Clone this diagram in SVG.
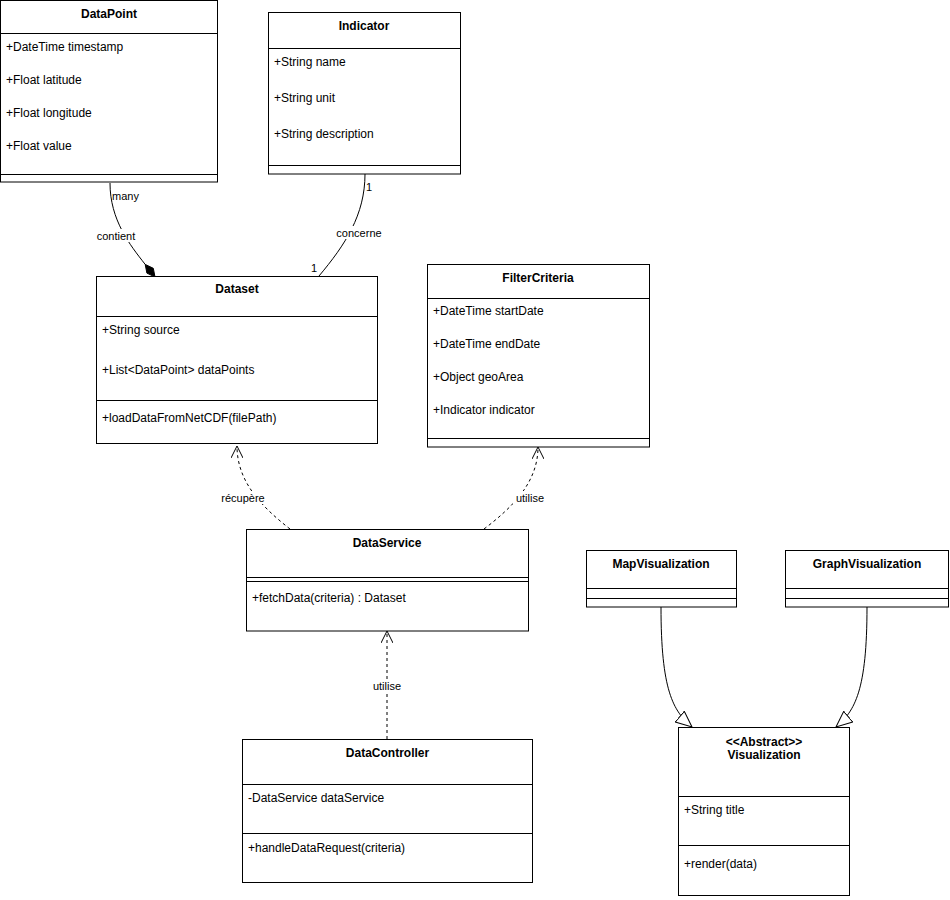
<svg xmlns="http://www.w3.org/2000/svg" width="950" height="900" viewBox="0 0 950 900">
<style>
.box{fill:#fff;stroke:#000;stroke-width:1}
.sep{stroke:#000;stroke-width:1;fill:none}
.title{font-family:"Liberation Sans",Arial,sans-serif;font-size:12px;font-weight:bold;text-anchor:middle;fill:#000}
.attr{font-family:"Liberation Sans",Arial,sans-serif;font-size:12px;fill:#000}
.lbl{font-family:"Liberation Sans",Arial,sans-serif;font-size:11px;fill:#000}
.mid{text-anchor:middle}
.edge{fill:none;stroke:#000;stroke-width:1}
.dash{stroke-dasharray:3 3}
</style>
<defs>
<marker id="open" viewBox="0 0 12 12" refX="12" refY="6" markerWidth="12" markerHeight="12" orient="auto" markerUnits="userSpaceOnUse">
<path d="M0,0 L12,6 L0,12" fill="none" stroke="#000" stroke-width="1"/>
</marker>
<marker id="tri" viewBox="0 0 17 15" refX="16.5" refY="7.5" markerWidth="17" markerHeight="15" orient="auto" markerUnits="userSpaceOnUse">
<path d="M0.5,0.5 L16.5,7.5 L0.5,14.5 Z" fill="#fff" stroke="#000" stroke-width="1"/>
</marker>
</defs>
<rect width="950" height="900" fill="#fff"/>

<g id="connectors">
<g id="e-contient">
<path class="edge" d="M110,183 C110,220 130,245 145.2,264.4"/>
<polygon points="155,277 153.3,268.3 145.2,264.4 146.9,273.1" fill="#000" stroke="#000"/>
<text class="lbl" x="112" y="200">many</text>
<rect x="96" y="229" width="40" height="13" fill="#fff"/>
<text class="lbl mid" x="116" y="240">contient</text>
</g>
<g id="e-concerne">
<path class="edge" d="M365,174 C365,215 345,245 319,276"/>
<text class="lbl" x="366" y="191">1</text>
<rect x="336" y="226" width="47" height="13" fill="#fff"/>
<text class="lbl mid" x="359" y="237">concerne</text>
<text class="lbl mid" x="314" y="272">1</text>
</g>
<g id="e-recupere">
<path class="edge dash" d="M290,529 C262,507 237,482 237,446" marker-end="url(#open)"/>
<rect x="221" y="491" width="45" height="13" fill="#fff"/>
<text class="lbl mid" x="243" y="502">récupère</text>
</g>
<g id="e-utilise1">
<path class="edge dash" d="M484,529 C513,507 538,482 538,447" marker-end="url(#open)"/>
<rect x="513" y="491" width="33" height="13" fill="#fff"/>
<text class="lbl mid" x="530" y="502">utilise</text>
</g>
<g id="e-utilise2">
<path class="edge dash" d="M387,739 L387,631" marker-end="url(#open)"/>
<rect x="370" y="679" width="34" height="13" fill="#fff"/>
<text class="lbl mid" x="387" y="690">utilise</text>
</g>
<g id="e-map-gen">
<path class="edge" d="M661,607 C661,690 673,711 692,727" marker-end="url(#tri)"/>
</g>
<g id="e-graph-gen">
<path class="edge" d="M867,607 C867,690 855,711 836,727" marker-end="url(#tri)"/>
</g>
</g>

<g id="DataPoint">
<rect class="box" x="0.5" y="0.5" width="217" height="181.5"/>
<line class="sep" x1="0.5" y1="33.5" x2="217.5" y2="33.5"/>
<line class="sep" x1="0.5" y1="174.5" x2="217.5" y2="174.5"/>
<text class="title" x="109" y="18">DataPoint</text>
<text class="attr" x="6" y="51">+DateTime timestamp</text>
<text class="attr" x="6" y="84">+Float latitude</text>
<text class="attr" x="6" y="117">+Float longitude</text>
<text class="attr" x="6" y="150">+Float value</text>
</g>

<g id="Indicator">
<rect class="box" x="268.5" y="12.5" width="192" height="161.5"/>
<line class="sep" x1="268.5" y1="48.5" x2="460.5" y2="48.5"/>
<line class="sep" x1="268.5" y1="165.5" x2="460.5" y2="165.5"/>
<text class="title" x="364" y="30">Indicator</text>
<text class="attr" x="274" y="66">+String name</text>
<text class="attr" x="274" y="102">+String unit</text>
<text class="attr" x="274" y="138">+String description</text>
</g>

<g id="Dataset">
<rect class="box" x="96.5" y="276.5" width="281" height="167"/>
<line class="sep" x1="96.5" y1="316.5" x2="377.5" y2="316.5"/>
<line class="sep" x1="96.5" y1="400.5" x2="377.5" y2="400.5"/>
<text class="title" x="237" y="293">Dataset</text>
<text class="attr" x="102" y="334">+String source</text>
<text class="attr" x="102" y="374">+List&lt;DataPoint&gt; dataPoints</text>
<text class="attr" x="102" y="422">+loadDataFromNetCDF(filePath)</text>
</g>

<g id="FilterCriteria">
<rect class="box" x="427.5" y="264.5" width="222" height="182.5"/>
<line class="sep" x1="427.5" y1="298.5" x2="649.5" y2="298.5"/>
<line class="sep" x1="427.5" y1="438.5" x2="649.5" y2="438.5"/>
<text class="title" x="538" y="282">FilterCriteria</text>
<text class="attr" x="433" y="315">+DateTime startDate</text>
<text class="attr" x="433" y="348">+DateTime endDate</text>
<text class="attr" x="433" y="381">+Object geoArea</text>
<text class="attr" x="433" y="414">+Indicator indicator</text>
</g>

<g id="DataService">
<rect class="box" x="246.5" y="529.5" width="282" height="101.5"/>
<line class="sep" x1="246.5" y1="577.5" x2="528.5" y2="577.5"/>
<line class="sep" x1="246.5" y1="581.5" x2="528.5" y2="581.5"/>
<text class="title" x="387" y="547">DataService</text>
<text class="attr" x="252" y="602">+fetchData(criteria) : Dataset</text>
</g>

<g id="DataController">
<rect class="box" x="242.5" y="739.5" width="290" height="143"/>
<line class="sep" x1="242.5" y1="784.5" x2="532.5" y2="784.5"/>
<line class="sep" x1="242.5" y1="833.5" x2="532.5" y2="833.5"/>
<text class="title" x="387.5" y="757">DataController</text>
<text class="attr" x="248" y="802">-DataService dataService</text>
<text class="attr" x="248" y="852">+handleDataRequest(criteria)</text>
</g>

<g id="MapVisualization">
<rect class="box" x="586.5" y="550.5" width="150" height="56.5"/>
<line class="sep" x1="586.5" y1="588.5" x2="736.5" y2="588.5"/>
<line class="sep" x1="586.5" y1="598.5" x2="736.5" y2="598.5"/>
<text class="title" x="661" y="568">MapVisualization</text>
</g>

<g id="GraphVisualization">
<rect class="box" x="785.5" y="550.5" width="163" height="56.5"/>
<line class="sep" x1="785.5" y1="588.5" x2="948.5" y2="588.5"/>
<line class="sep" x1="785.5" y1="598.5" x2="948.5" y2="598.5"/>
<text class="title" x="867" y="568">GraphVisualization</text>
</g>

<g id="Visualization">
<rect class="box" x="678.5" y="727.5" width="171" height="168"/>
<line class="sep" x1="678.5" y1="796.5" x2="849.5" y2="796.5"/>
<line class="sep" x1="678.5" y1="845.5" x2="849.5" y2="845.5"/>
<text class="title" x="764" y="746">&lt;&lt;Abstract&gt;&gt;</text>
<text class="title" x="764" y="759">Visualization</text>
<text class="attr" x="684" y="814">+String title</text>
<text class="attr" x="684" y="868">+render(data)</text>
</g>
</svg>
